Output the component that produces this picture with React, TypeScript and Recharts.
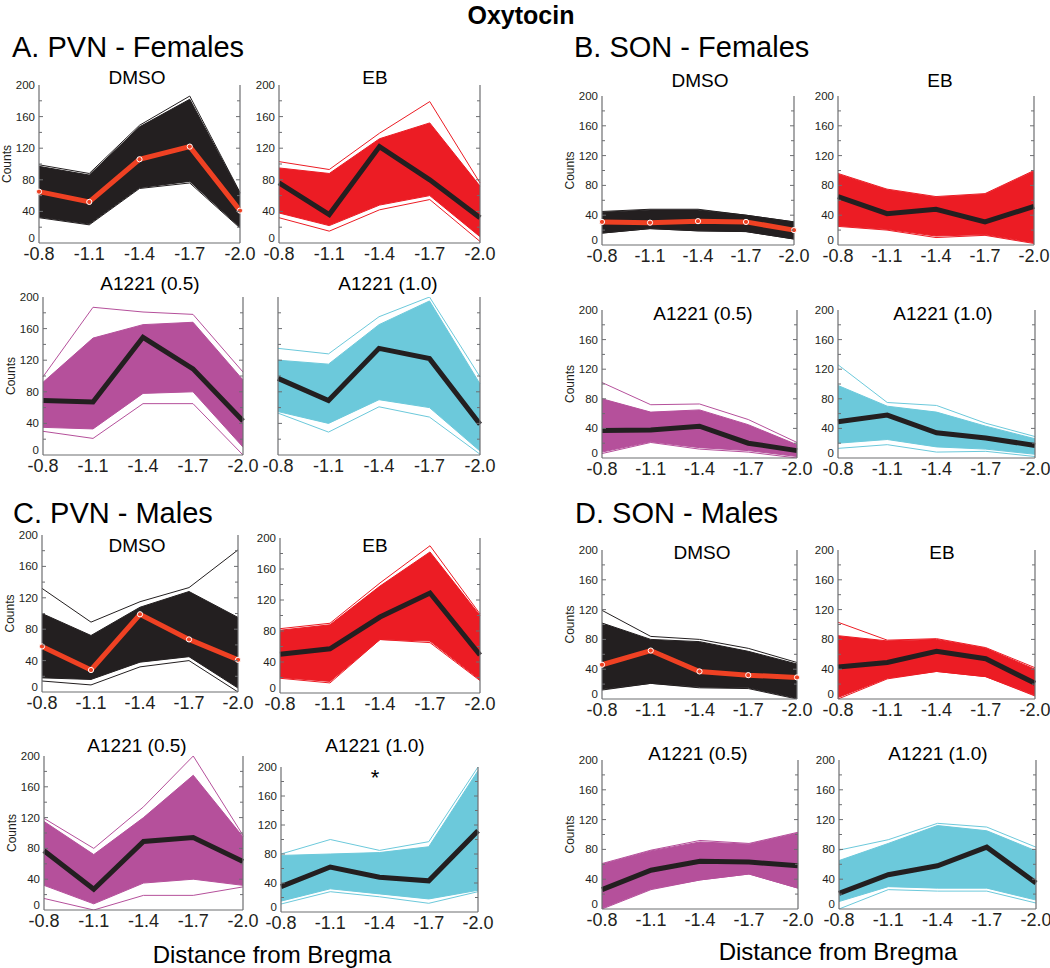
import React from "react";
import { ComposedChart, Area, Line, XAxis, YAxis } from "recharts";

// ---------- shared categories / ticks ----------
const X_LABELS = ["-0.8", "-1.1", "-1.4", "-1.7", "-2.0"];
const X_TICKS = [0, 1, 2, 3, 4];
const Y_TICKS = [0, 20, 40, 60, 80, 100, 120, 140, 160, 180, 200];

// ---------- A. PVN - Females ----------
const A_DMSO_MEAN = [65, 52, 106, 122, 41];
const A_DMSO_LO = [33, 24, 70, 78, 20];
const A_DMSO_HI = [97, 86, 147, 182, 63];
const A_DMSO_MIN = [32, 23, 69, 76, 19];
const A_DMSO_MAX = [99, 88, 149, 186, 64];

const A_EB_MEAN = [76, 36, 122, 80, 32];
const A_EB_LO = [38, 22, 48, 60, 8];
const A_EB_HI = [95, 88, 132, 152, 72];
const A_EB_MIN = [32, 15, 42, 55, 2];
const A_EB_MAX = [103, 93, 139, 179, 76];

const A_A05_MEAN = [69, 67, 149, 109, 43];
const A_A05_LO = [35, 33, 78, 80, 10];
const A_A05_HI = [92, 148, 165, 168, 95];
const A_A05_MIN = [30, 21, 65, 65, 0];
const A_A05_MAX = [99, 187, 181, 178, 105];

const A_A10_MEAN = [97, 69, 135, 122, 39];
const A_A10_LO = [55, 40, 70, 60, 5];
const A_A10_HI = [120, 115, 165, 195, 90];
const A_A10_MIN = [53, 29, 61, 48, 1];
const A_A10_MAX = [135, 128, 175, 200, 99];

// ---------- B. SON - Females ----------
const B_DMSO_MEAN = [31, 30, 32, 31, 20];
const B_DMSO_LO = [16, 22, 19, 18, 8];
const B_DMSO_HI = [44, 47, 47, 40, 31];
const B_DMSO_MIN = [16, 22, 19, 18, 8];
const B_DMSO_MAX = [45, 48, 48, 40, 31];

const B_EB_MEAN = [65, 42, 48, 31, 52];
const B_EB_LO = [26, 21, 12, 14, 3];
const B_EB_HI = [95, 74, 64, 68, 99];
const B_EB_MIN = [25, 20, 10, 13, 2];
const B_EB_MAX = [96, 75, 65, 69, 100];

const B_A05_MEAN = [37, 38, 43, 20, 10];
const B_A05_LO = [8, 22, 14, 10, 2];
const B_A05_HI = [80, 62, 65, 45, 18];
const B_A05_MIN = [6, 21, 12, 8, 0];
const B_A05_MAX = [102, 72, 73, 52, 21];

const B_A10_MEAN = [49, 58, 34, 27, 17];
const B_A10_LO = [20, 25, 15, 12, 5];
const B_A10_HI = [98, 70, 62, 43, 26];
const B_A10_MIN = [13, 18, 8, 9, 2];
const B_A10_MAX = [126, 75, 71, 47, 29];

// ---------- C. PVN - Males ----------
const C_DMSO_MEAN = [58, 28, 99, 67, 41];
const C_DMSO_LO = [18, 16, 38, 45, 5];
const C_DMSO_HI = [100, 72, 108, 128, 95];
const C_DMSO_MIN = [14, 9, 32, 40, 0];
const C_DMSO_MAX = [132, 89, 115, 133, 181];

const C_EB_MEAN = [50, 57, 98, 129, 49];
const C_EB_LO = [20, 15, 69, 67, 17];
const C_EB_HI = [81, 88, 138, 182, 100];
const C_EB_MIN = [19, 13, 69, 65, 16];
const C_EB_MAX = [83, 90, 142, 190, 102];

const C_A05_MEAN = [77, 27, 89, 94, 63];
const C_A05_LO = [32, 8, 35, 40, 32];
const C_A05_HI = [115, 72, 120, 175, 95];
const C_A05_MIN = [15, 0, 19, 19, 30];
const C_A05_MAX = [119, 80, 134, 200, 97];

const C_A10_MEAN = [35, 62, 48, 43, 112];
const C_A10_LO = [15, 32, 25, 18, 30];
const C_A10_HI = [78, 80, 82, 90, 195];
const C_A10_MIN = [11, 28, 21, 12, 28];
const C_A10_MAX = [80, 100, 85, 97, 200];

// ---------- D. SON - Males ----------
const D_DMSO_MEAN = [46, 65, 37, 32, 29];
const D_DMSO_LO = [13, 21, 16, 15, 1];
const D_DMSO_HI = [102, 80, 77, 64, 47];
const D_DMSO_MIN = [12, 21, 15, 14, 0];
const D_DMSO_MAX = [119, 84, 80, 68, 49];

const D_EB_MEAN = [43, 49, 64, 54, 21];
const D_EB_LO = [2, 28, 37, 30, 5];
const D_EB_HI = [85, 78, 80, 68, 40];
const D_EB_MIN = [0, 27, 37, 30, 4];
const D_EB_MAX = [103, 79, 81, 69, 42];

const D_A05_MEAN = [26, 52, 64, 63, 58];
const D_A05_LO = [1, 27, 39, 47, 28];
const D_A05_HI = [60, 78, 90, 87, 102];
const D_A05_MIN = [0, 26, 39, 47, 28];
const D_A05_MAX = [61, 79, 92, 88, 103];

const D_A10_MEAN = [21, 46, 58, 83, 35];
const D_A10_LO = [10, 30, 28, 28, 12];
const D_A10_HI = [65, 88, 112, 105, 78];
const D_A10_MIN = [0, 26, 24, 24, 8];
const D_A10_MAX = [79, 93, 115, 110, 83];

// ---------- styling ----------
const FONT = '"Liberation Sans", Arial, Helvetica, sans-serif';
const AX = "#6d6e71";
const TXT = "#231f20";
const BLACK = "#231f20";
const RED = "#ec1c24";
const MAGENTA = "#b5509b";
const CYAN = "#6cc9db";
const MEAN_RED = "#ef4123";

type Cfg = {
  box: [number, number, number, number];
  color: string;
  meanColor: string;
  dots: boolean;
  showY: boolean;
  mean: number[];
  lo: number[];
  hi: number[];
  min: number[];
  max: number[];
};

const panel = (
  box: [number, number, number, number],
  color: string,
  mean: number[],
  lo: number[],
  hi: number[],
  min: number[],
  max: number[],
  showY = true
): Cfg => {
  const isDmso = color === BLACK;
  return {
    box,
    color,
    meanColor: isDmso ? MEAN_RED : BLACK,
    dots: isDmso,
    showY,
    mean,
    lo,
    hi,
    min,
    max,
  };
};

const PANELS: Cfg[] = [
  panel([39, 85, 240, 243], BLACK, A_DMSO_MEAN, A_DMSO_LO, A_DMSO_HI, A_DMSO_MIN, A_DMSO_MAX),
  panel([279, 85, 480, 243], RED, A_EB_MEAN, A_EB_LO, A_EB_HI, A_EB_MIN, A_EB_MAX),
  panel([43, 297, 243, 455], MAGENTA, A_A05_MEAN, A_A05_LO, A_A05_HI, A_A05_MIN, A_A05_MAX),
  panel([278, 297, 480, 455], CYAN, A_A10_MEAN, A_A10_LO, A_A10_HI, A_A10_MIN, A_A10_MAX, false),
  panel([602, 96, 794, 245], BLACK, B_DMSO_MEAN, B_DMSO_LO, B_DMSO_HI, B_DMSO_MIN, B_DMSO_MAX),
  panel([838, 96, 1034, 245], RED, B_EB_MEAN, B_EB_LO, B_EB_HI, B_EB_MIN, B_EB_MAX),
  panel([602, 310, 797, 458], MAGENTA, B_A05_MEAN, B_A05_LO, B_A05_HI, B_A05_MIN, B_A05_MAX),
  panel([838, 310, 1035, 458], CYAN, B_A10_MEAN, B_A10_LO, B_A10_HI, B_A10_MIN, B_A10_MAX),
  panel([42, 535, 238, 692], BLACK, C_DMSO_MEAN, C_DMSO_LO, C_DMSO_HI, C_DMSO_MIN, C_DMSO_MAX),
  panel([280, 538, 480, 693], RED, C_EB_MEAN, C_EB_LO, C_EB_HI, C_EB_MIN, C_EB_MAX),
  panel([44, 756, 243, 910], MAGENTA, C_A05_MEAN, C_A05_LO, C_A05_HI, C_A05_MIN, C_A05_MAX),
  panel([281, 767, 478, 912], CYAN, C_A10_MEAN, C_A10_LO, C_A10_HI, C_A10_MIN, C_A10_MAX),
  panel([602, 550, 797, 699], BLACK, D_DMSO_MEAN, D_DMSO_LO, D_DMSO_HI, D_DMSO_MIN, D_DMSO_MAX),
  panel([838, 550, 1035, 699], RED, D_EB_MEAN, D_EB_LO, D_EB_HI, D_EB_MIN, D_EB_MAX),
  panel([602, 760, 798, 909], MAGENTA, D_A05_MEAN, D_A05_LO, D_A05_HI, D_A05_MIN, D_A05_MAX),
  panel([839, 760, 1036, 909], CYAN, D_A10_MEAN, D_A10_LO, D_A10_HI, D_A10_MIN, D_A10_MAX),
];

// subtitle text, center x, center y
const SUBTITLES: [string, number, number][] = [
  ["DMSO", 137, 77], ["EB", 375, 77], ["A1221 (0.5)", 150, 283], ["A1221 (1.0)", 388, 283],
  ["DMSO", 700, 80], ["EB", 940, 80], ["A1221 (0.5)", 703, 313], ["A1221 (1.0)", 943, 313],
  ["DMSO", 137, 545], ["EB", 375, 545], ["A1221 (0.5)", 137, 745], ["A1221 (1.0)", 375, 745],
  ["DMSO", 702, 552], ["EB", 942, 552], ["A1221 (0.5)", 698, 753], ["A1221 (1.0)", 938, 753],
];

const SECTIONS: [string, number, number][] = [
  ["A. PVN - Females", 12, 57],
  ["B. SON - Females", 574, 57],
  ["C. PVN - Males", 13, 523],
  ["D. SON - Males", 575, 523],
];

const COUNTS_PANELS = [0, 2, 4, 6, 8, 10, 12, 14];

const ML = 40;
const MR = 6;
const MT = 6;
const MB = 30;

const xTick = (props: any) => {
  const { x, y, payload } = props;
  return (
    <text x={x} y={y + 17} textAnchor="middle" fontSize={18} fill={TXT} fontFamily={FONT}>
      {X_LABELS[payload.value]}
    </text>
  );
};

const makeLeftTick = (show: boolean) => (props: any) => {
  const { x, y, payload } = props;
  const v = payload.value;
  const major = v % 40 === 0;
  return (
    <g>
      {v > 0 && v < 200 ? (
        <line x1={x} x2={x + (major ? 4 : 3)} y1={y} y2={y} stroke={AX} strokeWidth={1} />
      ) : null}
      {show && major ? (
        <text x={x - 4} y={v === 0 ? y - 1 : y + 4} textAnchor="end" fontSize={11.5} fill={TXT} fontFamily={FONT}>
          {v}
        </text>
      ) : null}
    </g>
  );
};

const rightTick = (props: any) => {
  const { x, y, payload } = props;
  const v = payload.value;
  if (v <= 0 || v >= 200) return <g />;
  return <line x1={x} x2={x - (v % 40 === 0 ? 4 : 3)} y1={y} y2={y} stroke={AX} strokeWidth={1} />;
};

function Panel({ cfg }: { cfg: Cfg }) {
  const W = cfg.box[2] - cfg.box[0];
  const H = cfg.box[3] - cfg.box[1];
  const data = X_LABELS.map((_, i) => ({
    i,
    band: [cfg.lo[i], cfg.hi[i]],
    min: cfg.min[i],
    max: cfg.max[i],
    mean: cfg.mean[i],
  }));
  const width = W + ML + MR;
  const height = H + MT + MB;
  return (
    <div style={{ position: "absolute", left: cfg.box[0] - ML, top: cfg.box[1] - MT, width, height }}>
      <ComposedChart width={width} height={height} data={data} margin={{ top: MT, right: 0, bottom: 0, left: 0 }}>
        <XAxis
          dataKey="i"
          type="number"
          domain={[0, 4]}
          ticks={X_TICKS}
          interval={0}
          height={MB}
          tickSize={0}
          tickMargin={0}
          tickLine={false}
          tick={xTick}
          axisLine={{ stroke: AX, strokeWidth: 1.2 }}
        />
        <YAxis
          yAxisId="l"
          width={ML}
          domain={[0, 200]}
          ticks={Y_TICKS}
          interval={0}
          tickSize={0}
          tickMargin={0}
          tickLine={false}
          tick={makeLeftTick(cfg.showY)}
          axisLine={{ stroke: AX, strokeWidth: 1.2 }}
          allowDataOverflow
        />
        <YAxis
          yAxisId="r"
          orientation="right"
          width={MR}
          domain={[0, 200]}
          ticks={Y_TICKS}
          interval={0}
          tickSize={0}
          tickMargin={0}
          tickLine={false}
          tick={rightTick}
          axisLine={{ stroke: AX, strokeWidth: 1.2 }}
          allowDataOverflow
        />
        <Area
          yAxisId="l"
          dataKey="band"
          type="linear"
          fill={cfg.color}
          fillOpacity={1}
          stroke={cfg.color}
          strokeWidth={1}
          isAnimationActive={false}
        />
        <Line yAxisId="l" dataKey="max" type="linear" stroke={cfg.color} strokeWidth={1} dot={false} isAnimationActive={false} />
        <Line yAxisId="l" dataKey="min" type="linear" stroke={cfg.color} strokeWidth={1} dot={false} isAnimationActive={false} />
        <Line
          yAxisId="l"
          dataKey="mean"
          type="linear"
          stroke={cfg.meanColor}
          strokeWidth={5}
          dot={cfg.dots ? { r: 2.6, fill: cfg.meanColor, stroke: "#ffffff", strokeWidth: 1 } : false}
          isAnimationActive={false}
        />
      </ComposedChart>
    </div>
  );
}

export default function App() {
  return (
    <div style={{ position: "absolute", left: 0, top: 0, width: 1050, height: 968, background: "#ffffff", fontFamily: FONT }}>
      <style>{`.recharts-surface { overflow: visible; } .recharts-wrapper { overflow: visible; }`}</style>
      {PANELS.map((cfg, k) => (
        <Panel key={k} cfg={cfg} />
      ))}
      <svg width={1050} height={968} style={{ position: "absolute", left: 0, top: 0, pointerEvents: "none" }}>
        <text x={521} y={24} textAnchor="middle" fontSize={25} fontWeight="bold" fill="#000" fontFamily={FONT}>
          Oxytocin
        </text>
        {SECTIONS.map(([t, x, y], k) => (
          <text key={"s" + k} x={x} y={y} fontSize={29} fill="#000" fontFamily={FONT}>
            {t}
          </text>
        ))}
        {SUBTITLES.map(([t, x, y], k) => (
          <text key={"t" + k} x={x} y={y + 7} textAnchor="middle" fontSize={19} fill="#000" fontFamily={FONT}>
            {t}
          </text>
        ))}
        {COUNTS_PANELS.map((idx) => {
          const b = PANELS[idx].box;
          const cx = b[0] - 28;
          const cy = (b[1] + b[3]) / 2;
          return (
            <text key={"c" + idx} x={cx} y={cy} textAnchor="middle" fontSize={12} fill={TXT} fontFamily={FONT} transform={`rotate(-90 ${cx} ${cy})`}>
              Counts
            </text>
          );
        })}
        <text x={375} y={785} textAnchor="middle" fontSize={22} fill="#000" fontFamily={FONT}>
          *
        </text>
        <text x={272} y={963} textAnchor="middle" fontSize={24} fill="#000" fontFamily={FONT}>
          Distance from Bregma
        </text>
        <text x={838} y={960} textAnchor="middle" fontSize={24} fill="#000" fontFamily={FONT}>
          Distance from Bregma
        </text>
      </svg>
    </div>
  );
}
